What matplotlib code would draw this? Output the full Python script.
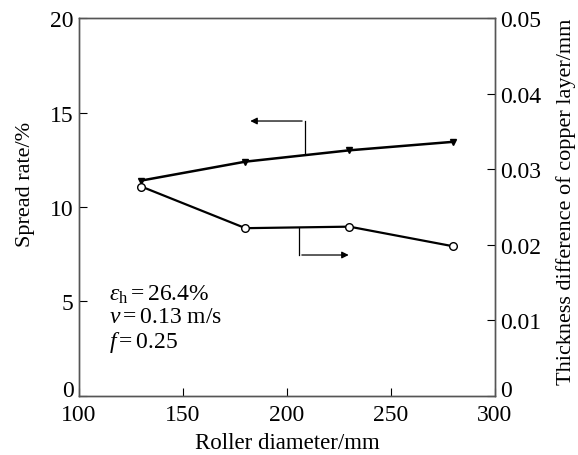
import matplotlib.pyplot as plt

plt.rcParams['font.family'] = ['Liberation Serif', 'DejaVu Serif']
plt.rcParams['mathtext.fontset'] = 'custom'
plt.rcParams['mathtext.rm'] = 'Liberation Serif'
plt.rcParams['mathtext.it'] = 'Liberation Serif:italic'

diameter = [130, 180, 230, 280]
spread_rate = [11.4, 12.4, 13.0, 13.45]
thickness_diff = [0.0277, 0.0222, 0.0224, 0.0198]

fig = plt.figure(figsize=(5.78, 4.56), dpi=100)
ax = fig.add_axes([0.1367, 0.1294, 0.7197, 0.8289])
ax2 = ax.twinx()

ax.plot(diameter, spread_rate, color='k', lw=1.8, marker='v', ms=5, zorder=3)
ax2.plot(diameter, thickness_diff, color='k', lw=1.6, marker='o', ms=5.5,
         mfc='white', mec='k', mew=1.0, zorder=3)

ax.set_xlim(100, 300)
ax.set_ylim(0, 20)
ax2.set_ylim(0, 0.05)
ax.set_xticks([100, 150, 200, 250, 300])
ax.set_yticks([0, 5, 10, 15, 20])
ax2.set_yticks([0, 0.01, 0.02, 0.03, 0.04, 0.05])
ax2.set_yticklabels(['0', '0.01', '0.02', '0.03', '0.04', '0.05'])

for a in (ax, ax2):
    a.tick_params(direction='in', labelsize=17, length=6, width=0.8, colors='k', pad=4)
    for s in a.spines.values():
        s.set_color('#555555')
        s.set_linewidth(1.0)
ax.tick_params(axis='x', pad=6)

# raise the bottom "0" labels so they sit above the x tick labels
ax.get_yticklabels()[0].set_verticalalignment('baseline')
ax2.get_yticklabels()[0].set_verticalalignment('baseline')

ax.set_xlabel('Roller diameter/mm', fontsize=16.5, labelpad=5)
ax.set_ylabel('Spread rate/%', fontsize=16)
ax.yaxis.set_label_coords(-0.107, 0.563)
ax2.set_ylabel('Thickness difference of copper layer/mm', fontsize=16)
ax2.yaxis.set_label_coords(1.148, 0.516)

# pointer arrows (left-axis units)
ax.plot([208.6, 208.6], [12.8, 14.55], color='k', lw=0.9)
ax.annotate('', xy=(181, 14.55), xytext=(208.6, 14.55),
            arrowprops=dict(arrowstyle='-|>', color='k', lw=0.9, mutation_scale=10))
ax.plot([205.8, 205.8], [8.89, 7.46], color='k', lw=0.9)
ax.annotate('', xy=(231, 7.46), xytext=(205.8, 7.46),
            arrowprops=dict(arrowstyle='-|>', color='k', lw=0.9, mutation_scale=10))

ax.text(0.072, 0.27, r'$\varepsilon_{\rm h}$$=$26.4%', transform=ax.transAxes, fontsize=17, va='center')
ax.text(0.072, 0.21, r'$v$$=$0.13 m/s', transform=ax.transAxes, fontsize=17, va='center')
ax.text(0.072, 0.143, r'$f$$=$0.25', transform=ax.transAxes, fontsize=17, va='center')

fig.savefig('out.png', dpi=100)
